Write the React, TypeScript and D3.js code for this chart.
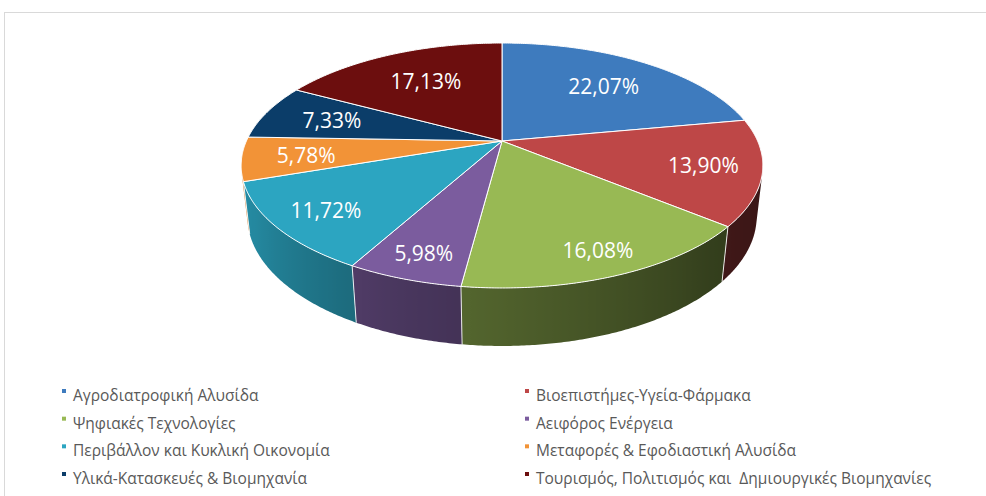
import React, { useEffect, useRef } from 'react';
import * as d3 from 'd3';

const categories = [
  'Αγροδιατροφική Αλυσίδα',
  'Βιοεπιστήμες-Υγεία-Φάρμακα',
  'Ψηφιακές Τεχνολογίες',
  'Αειφόρος Ενέργεια',
  'Περιβάλλον και Κυκλική Οικονομία',
  'Μεταφορές & Εφοδιαστική Αλυσίδα',
  'Υλικά-Κατασκευές & Βιομηχανία',
  'Τουρισμός, Πολιτισμός και  Δημιουργικές Βιομηχανίες',
];
const shares = [22.07, 13.9, 16.08, 5.98, 11.72, 5.78, 7.33, 17.13];
const colors = ['#3E7BBE', '#BE4747', '#98B954', '#7B5C9E', '#2CA5C1', '#F29337', '#0B3D69', '#6C0E0E'];

const W = 986;
const H = 496;

const App: React.FC = () => {
  const svgRef = useRef<SVGSVGElement>(null);

  useEffect(() => {
    if (!svgRef.current) return;
    const svg = d3.select(svgRef.current);
    svg.selectAll('*').remove();
    const defs = svg.append('defs');

    // chart area frame
    svg
      .append('rect')
      .attr('x', 4.5)
      .attr('y', 12.5)
      .attr('width', W + 20)
      .attr('height', H + 20)
      .attr('fill', 'none')
      .attr('stroke', '#D9D9D9');

    // simple perspective projection of a tilted disc
    const cx = 502;
    const cy = 141;
    const R = 0.2252;
    const F = 1135;
    const depth = 0.0508;
    const phi = Math.asin(0.46);
    const cosP = Math.cos(phi);
    const sinP = Math.sin(phi);
    const proj = (theta: number, r: number, y: number): [number, number] => {
      const X = R * r * Math.sin(theta);
      const Z = R * r * Math.cos(theta);
      const v = y * cosP + Z * sinP;
      const d = 1 + Z * cosP - y * sinP;
      return [cx + (F * X) / d, cy - (F * v) / d];
    };

    const arcs = d3
      .pie<number>()
      .sort(null)
      .value((d) => d)(shares);

    const shade = d3
      .scaleLinear()
      .domain([0, 60, 90, 135, 165, 200, 240, 270, 360])
      .range([0.3, 0.26, 0.28, 0.34, 0.46, 0.6, 0.82, 0.9, 0.9])
      .clamp(true);

    const toPath = (pts: [number, number][]) => 'M' + pts.map((p) => p.join(',')).join('L') + 'Z';
    const area = (pts: [number, number][]) =>
      d3.sum(pts, (p, i) => {
        const q = pts[(i + 1) % pts.length];
        return p[0] * q[1] - q[0] * p[1];
      });
    const facing = (t0: number, t1: number) =>
      area([proj(t0, 1, 0), proj(t1, 1, 0), proj(t1, 1, -depth), proj(t0, 1, -depth)]) < 0;

    // side walls, one gradient-filled path per slice
    const walls = svg.append('g');
    const step = Math.PI / 360;
    arcs.forEach((a, i) => {
      const n = Math.max(1, Math.ceil((a.endAngle - a.startAngle) / step));
      const ts: number[] = [];
      for (let k = 0; k < n; k++) {
        const t0 = a.startAngle + ((a.endAngle - a.startAngle) * k) / n;
        const t1 = a.startAngle + ((a.endAngle - a.startAngle) * (k + 1)) / n;
        if (facing(t0, t1)) {
          if (!ts.length) ts.push(t0);
          ts.push(t1);
        }
      }
      if (ts.length < 2) return;
      const top = ts.map((t) => proj(t, 1, 0));
      const bottom = ts.map((t) => proj(t, 1, -depth)).reverse();
      const xs = top.map((p) => p[0]);
      const x1 = d3.min(xs) as number;
      const x2 = d3.max(xs) as number;
      const c = d3.rgb(colors[i]);
      const id = `wall-${i}`;
      const grad = defs
        .append('linearGradient')
        .attr('id', id)
        .attr('gradientUnits', 'userSpaceOnUse')
        .attr('x1', x1)
        .attr('x2', x2)
        .attr('y1', 0)
        .attr('y2', 0);
      const stops = ts
        .map((t, k) => ({ off: x2 > x1 ? (xs[k] - x1) / (x2 - x1) : 0, f: shade((t * 180) / Math.PI) }))
        .sort((p, q) => p.off - q.off);
      stops.forEach((s) => {
        grad
          .append('stop')
          .attr('offset', s.off)
          .attr('stop-color', d3.rgb(c.r * s.f, c.g * s.f, c.b * s.f).formatHex());
      });
      walls.append('path').attr('d', toPath([...top, ...bottom])).attr('fill', `url(#${id})`);
    });
    arcs.forEach((a) => {
      const t = a.startAngle;
      if (!facing(t - 0.01, t + 0.01)) return;
      const p0 = proj(t, 1, 0);
      const p1 = proj(t, 1, -depth);
      walls
        .append('line')
        .attr('x1', p0[0])
        .attr('y1', p0[1])
        .attr('x2', p1[0])
        .attr('y2', p1[1])
        .attr('stroke', '#fff')
        .attr('stroke-opacity', 0.85)
        .attr('stroke-width', 1);
    });

    // top faces
    const tops = svg.append('g');
    arcs.forEach((a, i) => {
      const n = Math.max(2, Math.ceil((a.endAngle - a.startAngle) / step));
      const pts: [number, number][] = [proj(0, 0, 0)];
      for (let k = 0; k <= n; k++) {
        pts.push(proj(a.startAngle + ((a.endAngle - a.startAngle) * k) / n, 1, 0));
      }
      tops
        .append('path')
        .attr('d', toPath(pts))
        .attr('fill', colors[i])
        .attr('stroke', '#fff')
        .attr('stroke-width', 1)
        .attr('stroke-linejoin', 'round');
    });

    // data labels
    arcs.forEach((a) => {
      const mid = (a.startAngle + a.endAngle) / 2;
      const r = 0.75 - 0.1 * Math.cos(mid);
      const [x, y] = proj(mid, r, 0);
      svg
        .append('text')
        .attr('x', x + 2)
        .attr('y', y)
        .attr('text-anchor', 'middle')
        .attr('dominant-baseline', 'central')
        .attr('font-family', '"Open Sans", sans-serif')
        .attr('font-size', 21)
        .attr('fill', '#fff')
        .text(a.data.toFixed(2).replace('.', ',') + '%');
    });

    // legend, two columns
    const colX = d3.scalePoint<number>().domain([0, 1]).range([62, 525]);
    const rowY = d3.scaleLinear().domain([0, 3]).range([401, 484]);
    const legend = svg.append('g');
    categories.forEach((name, i) => {
      const x = colX(i % 2) as number;
      const y = rowY(Math.floor(i / 2));
      legend.append('rect').attr('x', x).attr('y', y - 12).attr('width', 4).attr('height', 4).attr('fill', colors[i]);
      legend
        .append('text')
        .attr('x', x + 11)
        .attr('y', y)
        .attr('font-family', '"Open Sans", sans-serif')
        .attr('font-size', 15.5)
        .attr('fill', '#595959')
        .style('white-space', 'pre')
        .text(name);
    });
  }, []);

  return (
    <svg
      ref={svgRef}
      width={W}
      height={H}
      style={{ position: 'absolute', left: 0, top: 0, display: 'block', background: '#fff' }}
    ></svg>
  );
};

export default App;
